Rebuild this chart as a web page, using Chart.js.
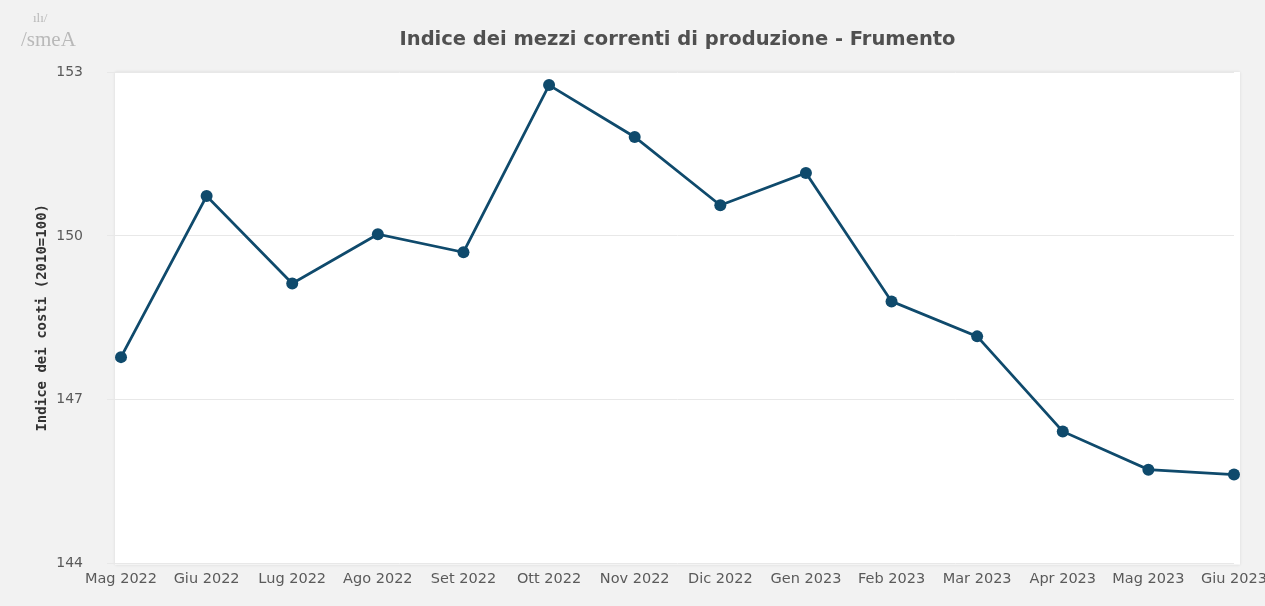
<!DOCTYPE html>
<html lang="it">
<head>
  <meta charset="UTF-8">
  <title>Indice dei mezzi correnti di produzione - Frumento</title>
  <script src="https://cdn.jsdelivr.net/npm/chart.js"></script>
  <style>
    body {
      margin: 0;
      background-color: #f2f2f2;
    }
    #wrap {
      width: 1265px;
      height: 606px;
    }
  </style>
</head>
<body>

  <div id="wrap"><canvas id="costChart" width="1265" height="606"></canvas></div>

  <script>
    const months = ['Mag 2022', 'Giu 2022', 'Lug 2022', 'Ago 2022', 'Set 2022', 'Ott 2022', 'Nov 2022',
                    'Dic 2022', 'Gen 2023', 'Feb 2023', 'Mar 2023', 'Apr 2023', 'Mag 2023', 'Giu 2023'];
    const costIndex = [147.78, 150.73, 149.13, 150.03, 149.70, 152.76, 151.81,
                       150.56, 151.15, 148.80, 148.16, 146.42, 145.72, 145.63];
    const yTicks = [144, 147, 150, 153];

    const lineColor = '#0f4a6c';

    // grey page, white plot panel and the small logo
    const panelPlugin = {
      id: 'panel',
      beforeDraw(chart) {
        const c = chart.ctx;
        const a = chart.chartArea;
        c.save();
        c.fillStyle = '#f2f2f2';
        c.fillRect(0, 0, chart.width, chart.height);
        c.shadowColor = 'rgba(0,0,0,0.10)';
        c.shadowBlur = 3;
        c.fillStyle = '#ffffff';
        c.fillRect(a.left - 6, a.top, a.right - a.left + 12, a.bottom - a.top + 1);
        c.restore();

        c.save();
        c.fillStyle = '#b9b9b9';
        c.font = '21px "Liberation Serif"';
        c.textBaseline = 'alphabetic';
        c.fillText('/smeA', 21, 46);
        c.font = '13px "Liberation Serif"';
        c.fillText('ılı/', 33, 22);
        c.restore();
      }
    };

    const ctx = document.getElementById('costChart').getContext('2d');

    new Chart(ctx, {
      type: 'line',
      data: {
        labels: months,
        datasets: [{
          label: 'Indice dei costi',
          data: costIndex,
          borderColor: lineColor,
          backgroundColor: lineColor,
          borderWidth: 2.8,
          pointRadius: 6,
          pointHoverRadius: 6,
          pointBackgroundColor: lineColor,
          pointBorderWidth: 0,
          tension: 0,
          fill: false
        }]
      },
      options: {
        responsive: false,
        animation: false,
        layout: {
          padding: { left: 0, right: 31, top: 0, bottom: 11 }
        },
        plugins: {
          legend: { display: false },
          tooltip: { enabled: false },
          title: {
            display: true,
            fullSize: false,
            text: 'Indice dei mezzi correnti di produzione - Frumento',
            color: '#505050',
            font: { family: '"DejaVu Sans"', size: 19.5, weight: 'bold' },
            padding: { top: 28, bottom: 20.6 }
          }
        },
        scales: {
          x: {
            grid: { display: false, drawTicks: false },
            border: { display: false },
            ticks: {
              color: '#5a5a5a',
              font: { family: '"DejaVu Sans"', size: 14.5 },
              padding: 7,
              maxRotation: 0,
              autoSkip: false
            },
            afterFit(scale) {
              scale.paddingLeft = 0;
              scale.paddingRight = 0;
            }
          },
          y: {
            min: 144,
            max: 153,
            afterBuildTicks(scale) {
              scale.ticks = yTicks.map(v => ({ value: v }));
            },
            afterFit(scale) {
              scale.width = 121;
            },
            grid: {
              color: '#e8e8e8',
              lineWidth: 1,
              drawTicks: true,
              tickLength: 14
            },
            border: { display: false },
            ticks: {
              color: '#5a5a5a',
              font: { family: '"DejaVu Sans"', size: 14 },
              padding: 24
            },
            title: {
              display: true,
              text: 'Indice dei costi (2010=100)',
              color: '#333333',
              font: { family: '"DejaVu Sans Mono"', size: 14, weight: 'bold' },
              padding: { top: 34, bottom: 0 }
            }
          }
        }
      },
      plugins: [panelPlugin]
    });
  </script>

</body>
</html>
